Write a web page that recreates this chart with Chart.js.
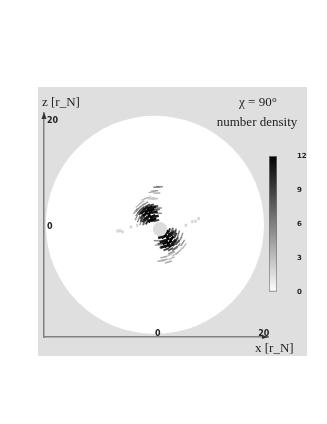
<!DOCTYPE html>
<html>
<head>
<meta charset="utf-8">
<title>number density</title>
<script src="https://cdn.jsdelivr.net/npm/chart.js@4"></script>
<style>
  body { margin: 0; background: #fff; }
  canvas { position: absolute; filter: blur(0.5px); }
  #mapChart { left: 0; top: 0; }
  #barChart { left: 262px; top: 146px; }
</style>
</head>
<body>
<canvas id="mapChart" width="327" height="424"></canvas>
<canvas id="barChart" width="45" height="156"></canvas>
<script>
const xTicks = [0, 20];
const zTicks = [0, 20];
const densityTicks = [0, 3, 6, 9, 12];
const densityRange = [0, 12];

// outer and inner edge of the map, in r_N
const diskCentre = [{x: -0.55, y: 0.4}];
const diskRadius = 20.6;
const holeCentre = [{x: 0.4, y: -0.4}];
const holeRadius = 1.35;

// density samples, faint ones first
const blobX = [
  -0.2, 0.3, -0.6, -1.1, -0.2, -2.5, -1.9, -1.2, -0.6, -3.1, -7.6, -7.2, -6.7, -5.1, -3.9, 5.3, 6.5, 7.7, 7.1, 2.7,
  0.6, 1.2, 2.0, 2.6, 1.7, 3.2, 1.1, 5.0, -3.7, 3.9, 4.4,
  -3.8, -4.0, -3.6, -4.2, -3.7, -3.0, -2.4, -3.2, -2.6, 0.1, 0.1, 4.2, 4.5, 3.9, 4.7, 3.8, 3.2, 2.5, 3.3, 2.7, 0.1, -0.1,
  -3.0, -3.2, -3.0, -2.6, -2.0, -0.3, -0.2, -0.5, -1.3, -2.0, -3.4, -3.0, 3.3, 3.5, 3.2, 2.8, 2.1, 0.6, 0.5, 0.9, 1.6, 2.4, 3.7, 3.2,
  -1.0, -1.5, -2.0, -1.2, -0.6, -2.4, -1.8, -0.8, -1.4, -2.2, -0.4, -2.8, -1.6, -0.9, -2.3,
  1.2, 1.7, 2.2, 1.4, 0.9, 2.6, 2.0, 1.0, 1.6, 2.4, 0.6, 3.0, 1.8, 1.1, 2.5
];
const blobZ = [
  7.5, 7.6, 6.8, 6.6, 6.4, 5.3, 5.5, 5.4, 5.3, 4.6, -0.8, -0.7, -0.9, 0.0, 0.3, 0.3, 1.0, 1.6, 1.1, -5.0,
  -6.4, -6.2, -6.6, -5.9, -5.5, -5.2, -5.7, -3.6, 4.1, -4.7, -4.2,
  2.6, 1.9, 1.5, 3.0, 3.4, 4.0, 4.4, 1.0, 0.9, 3.6, 2.6, -2.4, -1.7, -1.3, -3.0, -3.6, -4.1, -4.8, -0.9, -0.7, -3.4, -2.6,
  2.0, 2.7, 3.4, 1.4, 1.0, 1.2, 3.3, 3.9, 4.1, 4.0, 3.0, 1.5, -1.6, -2.4, -3.2, -1.2, -0.8, -0.9, -3.1, -3.8, -4.2, -4.2, -2.9, -1.1,
  2.0, 2.6, 3.0, 3.2, 2.8, 2.4, 1.9, 1.4, 1.3, 1.6, 2.0, 2.9, 3.6, 3.7, 3.5,
  -1.8, -2.4, -2.9, -3.0, -2.7, -2.2, -1.7, -1.2, -1.1, -1.4, -1.9, -2.8, -3.5, -3.7, -3.5
];
const blobN = [
  6, 6, 5, 4, 4, 3, 3, 3, 3, 3, 2, 2, 2, 2, 2, 2, 2, 2, 2, 3,
  4, 4, 4, 3, 3, 3, 4, 3, 3, 4, 3,
  6, 5, 6, 5, 6, 5, 5, 5, 7, 5, 6, 6, 5, 6, 5, 6, 7, 5, 6, 7, 5, 6,
  9, 9, 9, 10, 10, 9, 8, 8, 9, 8, 8, 9, 9, 9, 9, 10, 10, 9, 8, 9, 9, 8, 8, 9,
  12, 12, 12, 12, 11, 12, 12, 12, 12, 11, 11, 11, 12, 11, 11,
  12, 12, 12, 12, 11, 12, 12, 12, 12, 11, 11, 11, 12, 11, 11
];

const blobPoints = blobX.map((x, i) => ({x: x, y: blobZ[i], n: blobN[i]}));

function grey(n) {
  const v = Math.round(255 * (1 - n / 12));
  return `rgb(${v}, ${v}, ${v})`;
}

// ridges run round the central hole
function ridgeAngle(p) {
  return Math.atan2(-p.y, p.x) * 180 / Math.PI + 90;
}

const panelPlugin = {
  id: 'panel',
  beforeDraw(chart) {
    const c = chart.ctx;
    c.save();
    c.fillStyle = '#dfdfdf';
    c.fillRect(38, 87, 269, 269);
    c.restore();
  },
  afterDraw(chart) {
    const c = chart.ctx;
    const a = chart.chartArea;
    c.save();
    // arrow heads on both axes
    c.fillStyle = '#333';
    c.beginPath();
    c.moveTo(a.left, a.top - 1);
    c.lineTo(a.left - 2.5, a.top + 6);
    c.lineTo(a.left + 2.5, a.top + 6);
    c.fill();
    c.beginPath();
    c.moveTo(a.right + 1, a.bottom);
    c.lineTo(a.right - 6, a.bottom - 2);
    c.lineTo(a.right - 6, a.bottom + 2);
    c.fill();
    c.fillStyle = '#222';
    c.font = '13px "Liberation Serif"';
    c.textBaseline = 'middle';
    c.textAlign = 'left';
    c.fillText('z [r_N]', 42, 103);
    c.fillText('x [r_N]', 255, 349);
    c.textAlign = 'center';
    c.fillText('χ = 90°', 258, 103);
    c.fillText('number density', 257, 123);
    c.restore();
  }
};

const tickFont = {family: 'DejaVu Sans', size: 8, weight: 'bold'};

new Chart(document.getElementById('mapChart'), {
  type: 'scatter',
  data: {
    datasets: [{
      data: holeCentre,
      order: 1,
      pointBackgroundColor: '#dcdcdc',
      pointBorderWidth: 0,
      pointRadius: ctx => ctx.chart.scales.x.getPixelForValue(holeRadius) - ctx.chart.scales.x.getPixelForValue(0)
    }, {
      data: blobPoints,
      order: 2,
      pointStyle: 'line',
      pointBorderColor: ctx => grey(ctx.raw.n),
      pointBorderWidth: ctx => ctx.raw.n > 10 ? 2.6 : ctx.raw.n > 6 ? 2 : ctx.raw.n > 2 ? 1.4 : 2.5,
      pointRotation: ctx => ridgeAngle(ctx.raw),
      pointRadius: ctx => ctx.raw.n > 6 ? 3 : ctx.raw.n > 2 ? 3.5 : 1.5
    }, {
      data: diskCentre,
      order: 3,
      clip: false,
      pointBackgroundColor: '#fff',
      pointBorderWidth: 0,
      pointRadius: ctx => ctx.chart.scales.x.getPixelForValue(diskRadius) - ctx.chart.scales.x.getPixelForValue(0)
    }]
  },
  plugins: [panelPlugin],
  options: {
    responsive: false,
    animation: false,
    layout: {padding: {left: 44, top: 113, right: 59, bottom: 87}},
    plugins: {legend: {display: false}, tooltip: {enabled: false}},
    scales: {
      x: {
        min: -21.5,
        max: 20.8,
        afterFit: s => { s.height = 0; },
        afterBuildTicks: s => { s.ticks = xTicks.map(v => ({value: v})); },
        grid: {display: false, drawTicks: false},
        border: {color: '#808080', width: 1.5},
        ticks: {z: 1, mirror: true, padding: -2, autoSkip: false, font: tickFont, color: '#222', maxRotation: 0}
      },
      y: {
        min: -20.75,
        max: 21.5,
        afterFit: s => { s.width = 0; },
        afterBuildTicks: s => { s.ticks = zTicks.map(v => ({value: v})); },
        grid: {display: false, drawTicks: false},
        border: {color: '#808080', width: 1.5},
        ticks: {z: 1, mirror: true, padding: 3, autoSkip: false, font: tickFont, color: '#222'}
      }
    }
  }
});

new Chart(document.getElementById('barChart'), {
  type: 'bar',
  data: {
    labels: ['density'],
    datasets: [{
      data: [densityRange],
      barPercentage: 1,
      categoryPercentage: 1,
      borderWidth: 1,
      borderColor: '#777',
      borderSkipped: false,
      backgroundColor(ctx) {
        const a = ctx.chart.chartArea;
        if (!a) return '#888';
        const g = ctx.chart.ctx.createLinearGradient(0, a.bottom, 0, a.top);
        g.addColorStop(0, '#fff');
        g.addColorStop(1, '#000');
        return g;
      }
    }]
  },
  options: {
    responsive: false,
    animation: false,
    layout: {padding: {left: 7, top: 10, right: 0, bottom: 10}},
    plugins: {legend: {display: false}, tooltip: {enabled: false}},
    scales: {
      x: {display: false},
      y: {
        position: 'right',
        min: densityRange[0],
        max: densityRange[1],
        afterFit: s => { s.width = 30; },
        afterBuildTicks: s => { s.ticks = densityTicks.map(v => ({value: v})); },
        grid: {display: true, drawOnChartArea: false, drawTicks: true, tickLength: 19, tickColor: 'transparent'},
        border: {display: false},
        ticks: {padding: 1, autoSkip: false, font: {family: 'DejaVu Sans', size: 7, weight: 'bold'}, color: '#222'}
      }
    }
  }
});
</script>
</body>
</html>
